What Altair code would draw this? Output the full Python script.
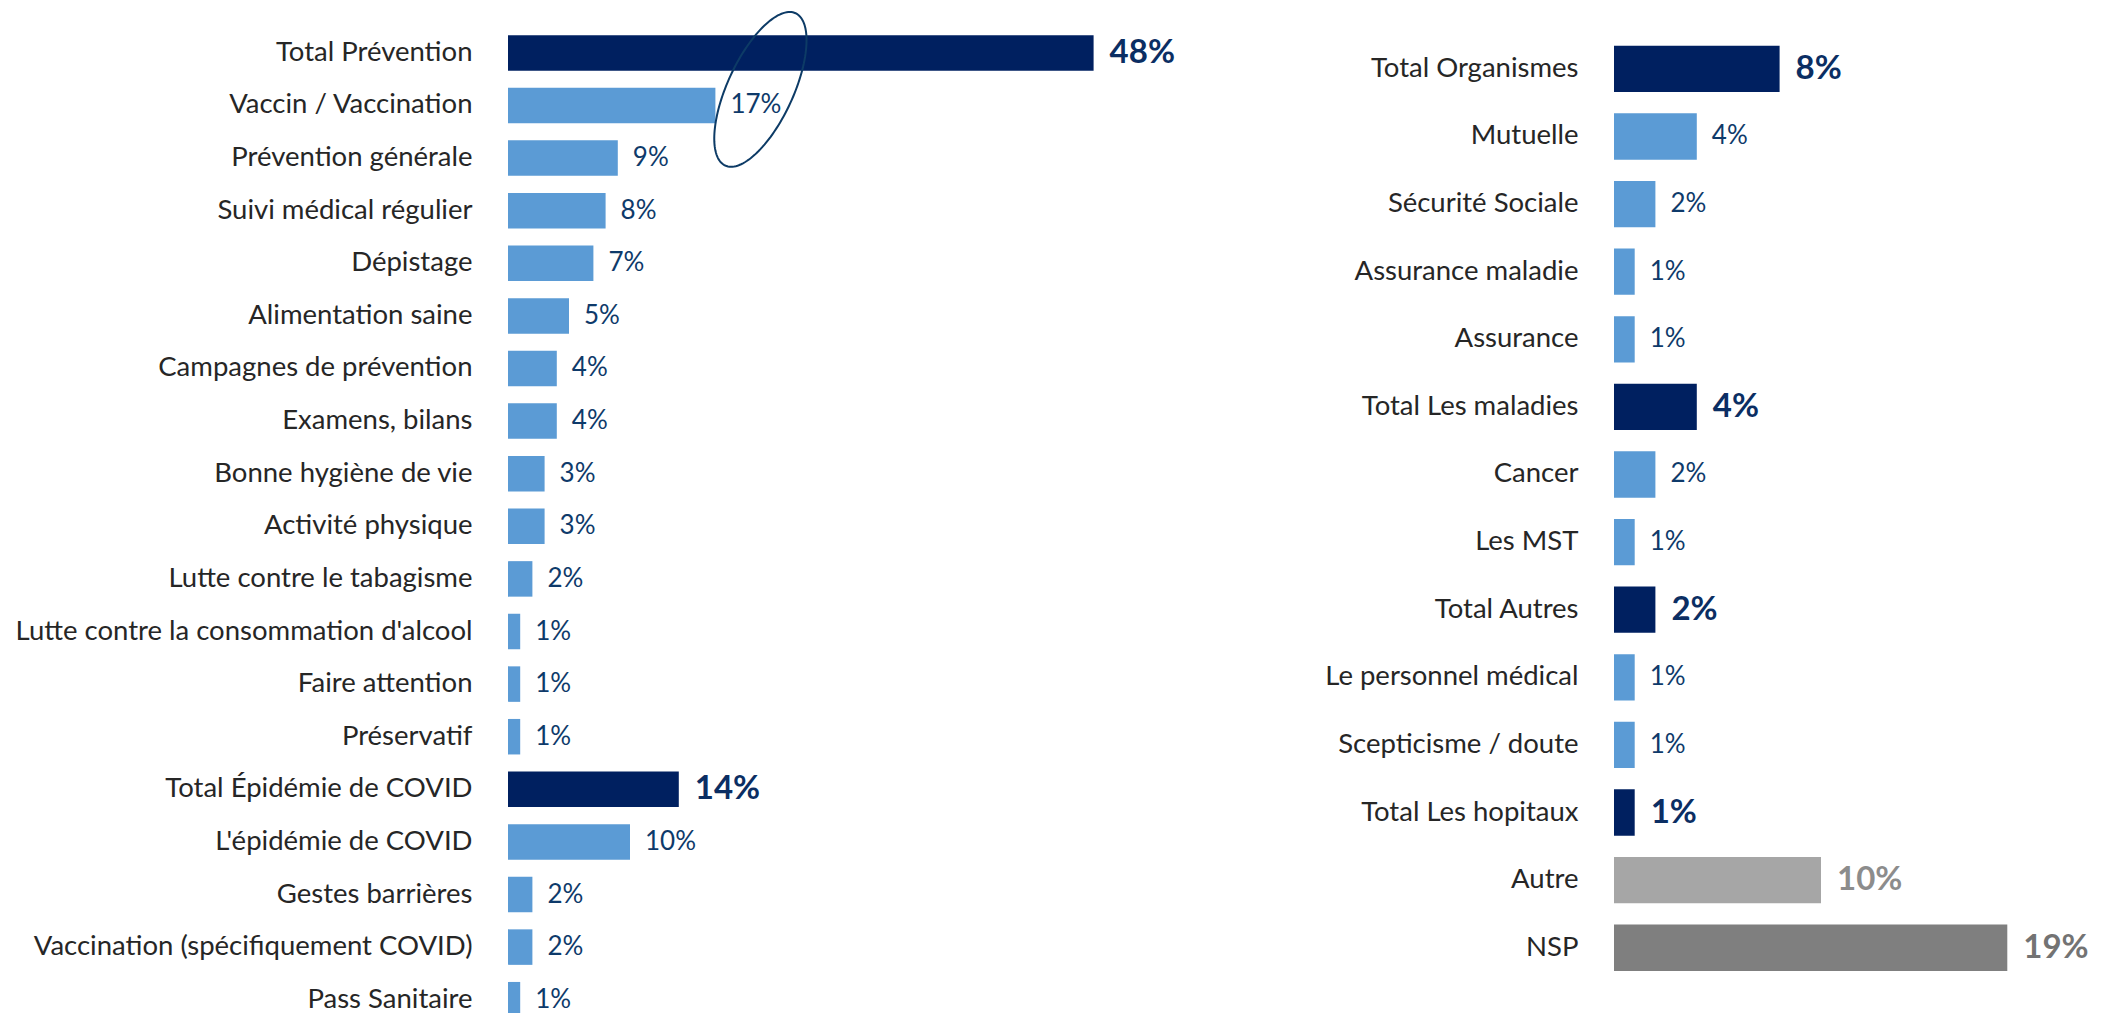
import math
import altair as alt
import pandas as pd

# ---------------- data ----------------
left_categories = [
    "Total Prévention", "Vaccin / Vaccination", "Prévention générale",
    "Suivi médical régulier", "Dépistage", "Alimentation saine",
    "Campagnes de prévention", "Examens, bilans", "Bonne hygiène de vie",
    "Activité physique", "Lutte contre le tabagisme",
    "Lutte contre la consommation d'alcool", "Faire attention", "Préservatif",
    "Total Épidémie de COVID", "L'épidémie de COVID", "Gestes barrières",
    "Vaccination (spécifiquement COVID)", "Pass Sanitaire",
]
left_values = [48, 17, 9, 8, 7, 5, 4, 4, 3, 3, 2, 1, 1, 1, 14, 10, 2, 2, 1]
left_kinds = ["total"] + ["item"] * 13 + ["total"] + ["item"] * 4

right_categories = [
    "Total Organismes", "Mutuelle", "Sécurité Sociale", "Assurance maladie",
    "Assurance", "Total Les maladies", "Cancer", "Les MST", "Total Autres",
    "Le personnel médical", "Scepticisme / doute", "Total Les hopitaux",
    "Autre", "NSP",
]
right_values = [8, 4, 2, 1, 1, 4, 2, 1, 2, 1, 1, 1, 10, 19]
right_kinds = ["total", "item", "item", "item", "item", "total", "item", "item",
               "total", "item", "item", "total", "autre", "nsp"]

annotated_category = "Vaccin / Vaccination"

# ---------------- style ----------------
FONT = "Lato"
kind_domain = ["total", "item", "autre", "nsp"]
bar_colors = ["#002060", "#5B9BD5", "#A6A6A6", "#7F7F7F"]
label_colors = ["#0B2E63", "#0E3A6A", "#8C8C8C", "#737373"]
NAVY_TEXT = "#0E3A6A"


# rotated ellipse outline as a unit symbol path (closed polygon, tight bounds)
def _ellipse_path(rx, angle_deg, n=144):
    c, s = math.cos(math.radians(angle_deg)), math.sin(math.radians(angle_deg))
    parts = []
    for i in range(n):
        t = 2 * math.pi * i / n
        x, y = rx * math.sin(t), -math.cos(t)
        parts.append(f"{x * c - y * s:.4f},{x * s + y * c:.4f}")
    return "M" + "L".join(parts) + "Z"


ELLIPSE = _ellipse_path(0.392, 24.8)


def make_df(cats, vals, kinds):
    df = pd.DataFrame({"cat": cats, "value": vals, "kind": kinds})
    df["label"] = df["value"].astype(str) + "%"
    return df


def panel(df, width, height, xmax, pad_inner, pad_outer, label_pad, extra=None):
    y = alt.Y(
        "cat:N", sort=list(df["cat"]),
        scale=alt.Scale(paddingInner=pad_inner, paddingOuter=pad_outer),
        axis=alt.Axis(title=None, domain=False, ticks=False, tickSize=0,
                      labelPadding=label_pad, labelFont=FONT, labelFontSize=27.5,
                      labelColor="#262626", labelLimit=900, grid=False),
    )
    x = alt.X("value:Q", scale=alt.Scale(domain=[0, xmax]), axis=None)
    base = alt.Chart(df).encode(y=y)
    bars = base.mark_bar().encode(
        x=x,
        color=alt.Color("kind:N", scale=alt.Scale(domain=kind_domain, range=bar_colors), legend=None),
    )
    regular = base.transform_filter(alt.datum.kind == "item").mark_text(
        align="left", baseline="middle", dx=15, font=FONT, fontSize=26, color=NAVY_TEXT
    ).encode(x=x, text="label:N")
    bold = base.transform_filter(alt.datum.kind != "item").mark_text(
        align="left", baseline="middle", dx=16, font=FONT, fontSize=33, fontWeight="bold"
    ).encode(
        x=x, text="label:N",
        color=alt.Color("kind:N", scale=alt.Scale(domain=kind_domain, range=label_colors), legend=None),
    )
    layers = [bars, regular, bold]
    if extra is not None:
        layers += extra(base, x)
    return alt.layer(*layers).resolve_scale(color="independent").properties(width=width, height=height)


left_df = make_df(left_categories, left_values, left_kinds)
right_df = make_df(right_categories, right_values, right_kinds)


def left_extra(base, x):
    ellipse = base.transform_filter(alt.datum.cat == annotated_category).mark_point(
        shape=ELLIPSE, size=28150, filled=False, stroke="#0D3B66", color="#0D3B66",
        strokeWidth=2, opacity=1, xOffset=45, yOffset=-16.1,
    ).encode(x=x)
    anchor = alt.Chart(alt.Data(values=[{"a": 1}])).mark_rule(strokeOpacity=0).encode(
        x=alt.value(-500), x2=alt.value(-499), y=alt.value(10)
    )
    return [ellipse, anchor]


left = panel(left_df, 610, 1036.6, 50, 0.325, 0.516, 36, extra=left_extra)
right = panel(right_df, 414, 1000.6, 20, 0.3146, 0.558, 36)

chart = alt.hconcat(left, right, spacing=496, bounds="flush").properties(
    padding=0
).configure_view(stroke=None)

chart.save("out.html", embed_options={"renderer": "svg", "actions": False})
